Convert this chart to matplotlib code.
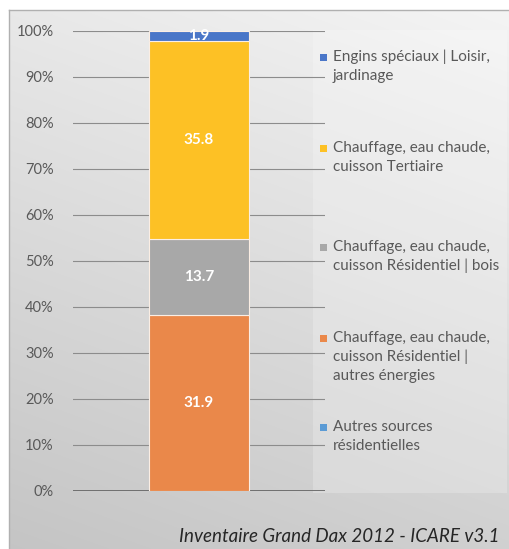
import matplotlib.pyplot as plt
import matplotlib.patches as patches
import numpy as np

# Données (ordre d'empilement, du bas vers le haut)
categories = [
    "Autres sources\nrésidentielles",
    "Chauffage, eau chaude,\ncuisson Résidentiel |\nautres énergies",
    "Chauffage, eau chaude,\ncuisson Résidentiel | bois",
    "Chauffage, eau chaude,\ncuisson Tertiaire",
    "Engins spéciaux | Loisir,\njardinage",
]
valeurs = [0.0, 31.9, 13.7, 35.8, 1.9]
couleurs = ["#5b9bd5", "#ea884a", "#a8a8a8", "#fdc125", "#4a76c8"]
ticks_y = [0, 0.1, 0.2, 0.3, 0.4, 0.5, 0.6, 0.7, 0.8, 0.9, 1.0]
source = "Inventaire Grand Dax 2012 - ICARE v3.1"

plt.rcParams['font.family'] = ['Lato', 'DejaVu Sans']
gris_texte = '#595959'

W, H = 510, 549
fig = plt.figure(figsize=(W / 100, H / 100), dpi=100)

# Fond en dégradé avec cadre
bg = fig.add_axes([0, 0, 1, 1], zorder=-10)
bg.set_xlim(0, W)
bg.set_ylim(H, 0)
bg.axis('off')
yy, xx = np.mgrid[0:H, 0:W]
t = 0.75 * (yy / H) + 0.25 * (1 - xx / W)
gris = 0.96 - 0.19 * t
img = np.dstack([gris, gris, gris])
img[:10, :, :] = 1.0
img[:, :9, :] = 1.0
bg.imshow(img, extent=(0, W, H, 0), aspect='auto', interpolation='bilinear')
bg.plot([9, W], [10, 10], color='#b0b0b0', lw=1)
bg.plot([9, 9], [10, H], color='#b0b0b0', lw=1)
# zone claire de la légende
bg.add_patch(patches.Rectangle((313, 30), 194, 463, facecolor='white',
                               alpha=0.22, edgecolor='none'))

# Axe principal
ax = fig.add_axes([73 / W, 58 / H, 252 / W, 460 / H])
ax.patch.set_alpha(0)
total = sum(valeurs)
parts = [v / total for v in valeurs]
bas = 0.0
for v, p, c in zip(valeurs, parts, couleurs):
    ax.bar(0, p, width=1.0, bottom=bas, color=c, edgecolor='#fbeee4',
           linewidth=0.8, zorder=3)
    if v > 0:
        ax.text(0, bas + p / 2, f"{v:.1f}", ha='center', va='center',
                color='white', fontsize=11, fontweight='bold', zorder=4)
    bas += p

ax.set_xlim(-1.26, 1.26)
ax.set_ylim(0, 1)
ax.set_yticks(ticks_y)
ax.set_yticklabels([f"{int(round(v * 100))}%" for v in ticks_y])
ax.tick_params(axis='y', length=0, pad=14, labelsize=10.5, labelcolor=gris_texte)
ax.set_xticks([])
for s in ax.spines.values():
    s.set_visible(False)
ax.grid(axis='y', color='#8c8c8c', linewidth=0.8, zorder=0)
ax.axhline(0, color='#6e6e6e', linewidth=1.4, zorder=1)

# Légende (ordre inversé, de haut en bas)
lignes_base = [62, 153, 252, 343, 432]
for lab, c, yb in zip(categories[::-1], couleurs[::-1], lignes_base):
    fig.patches.append(patches.Rectangle((320 / W, 1 - (yb - 1) / H), 7 / W, 7 / H,
                                         facecolor=c, edgecolor='none',
                                         transform=fig.transFigure))
    fig.text(333 / W, 1 - (yb - 12) / H, lab, ha='left', va='top', fontsize=11,
             color=gris_texte, linespacing=1.42)

fig.text(500 / W, 1 - 537 / H, source, ha='right', va='center', fontsize=13.5,
         style='italic', color='#262626')

fig.savefig('out.png', dpi=100)
